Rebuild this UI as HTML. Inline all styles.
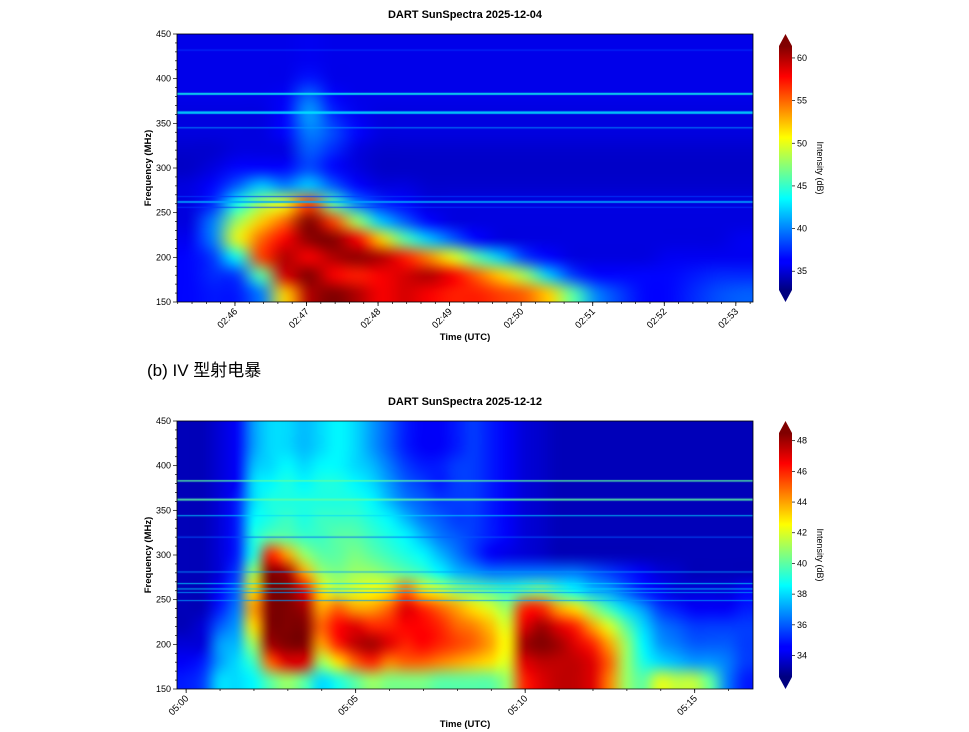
<!DOCTYPE html>
<html><head><meta charset="utf-8">
<style>
html,body{margin:0;padding:0;background:#fff;width:969px;height:732px;overflow:hidden;font-family:"Liberation Sans","Noto Sans CJK SC",sans-serif;}
#root{position:relative;width:969px;height:732px;}
canvas{position:absolute;}
svg{position:absolute;left:0;top:0;}
</style></head>
<body>
<div id="root">
<canvas id="hm1" width="576" height="268" style="left:177px;top:34px"></canvas>
<canvas id="hm2" width="576" height="268" style="left:177px;top:421px"></canvas>
<svg id="ov" width="969" height="732">
<defs>
<linearGradient id="jet" x1="0" y1="1" x2="0" y2="0">
<stop offset="0" stop-color="#000080"/><stop offset="0.11" stop-color="#0000ff"/><stop offset="0.125" stop-color="#0000ff"/>
<stop offset="0.375" stop-color="#00ffff"/><stop offset="0.5" stop-color="#80ff80"/><stop offset="0.625" stop-color="#ffff00"/>
<stop offset="0.875" stop-color="#ff0000"/><stop offset="1" stop-color="#800000"/>
</linearGradient>
</defs>
<text x="465" y="18" text-anchor="middle" font-size="11" font-weight="bold">DART SunSpectra 2025-12-04</text>
<text x="465" y="405" text-anchor="middle" font-size="11" font-weight="bold">DART SunSpectra 2025-12-12</text>
<text x="147" y="376" font-size="17">(b) IV 型射电暴</text>
</svg>
</div>
<script>
// ===== Chart 1 data =====
const time1Min = 45.19, time1Max = 53.24;   // minutes after 02:00
const freqMin = 150, freqMax = 450;
const c1Range = [32.8, 61.4];
const grid1 = [
[35.8,35.8,35.8,35.8,35.8,36,35.8,35.8,35.8,35.8,35.8,35.8,35.8,35.8,35.8,35.8,35.8,35.8,35.8,35.8,35.8,35.8,35.8,35.8],
[35.8,35.8,35.8,35.8,35.8,36,35.8,35.8,35.8,35.8,35.8,35.8,35.8,35.8,35.8,35.8,35.8,35.8,35.8,35.8,35.8,35.8,35.8,35.8],
[35.8,35.8,35.8,35.8,35.8,37,35.8,35.8,35.8,35.8,35.8,35.8,35.8,35.8,35.8,35.8,35.8,35.8,35.8,35.8,35.8,35.8,35.8,35.8],
[35.8,35.8,35.8,35.8,36.2,39.5,36.5,35.8,35.8,35.8,35.8,35.8,35.8,35.8,35.8,35.8,35.8,35.8,35.8,35.8,35.8,35.8,35.8,35.8],
[35.5,35.5,35.5,35.5,36.5,41,37.5,36,35.5,35.5,35.5,35.5,35.5,35.5,35.5,35.5,35.5,35.5,35.5,35.5,35.5,35.5,35.5,35.5],
[35.5,35.5,35.5,35.5,36.5,40,38.5,36.5,35.5,35.5,35.5,35.5,35.5,35.5,35.5,35.5,35.5,35.5,35.5,35.5,35.5,35.5,35.5,35.5],
[35,35,35.5,35.5,35.5,39,37.5,35.5,35,35,35,35,35,35,35,35,35,35,35,35,35,35,35,35],
[34.8,35.5,36.5,36.5,36.5,38.5,36.5,35.5,34.8,34.8,34.8,34.8,34.8,34.8,34.8,34.8,34.8,34.8,34.8,34.8,34.8,34.8,34.8,34.8],
[35.5,36.5,39,42,40,42,39,36.5,35.5,35.5,35,35,35,35,35,35,35,35,35,35,35,35,35,35],
[35.5,37.5,44,48,50,56,46,40,37.5,36.5,35.5,35.5,35.5,35.5,35.5,35.5,35.5,35.5,35.5,35.5,35.5,35.5,35.5,35.5],
[35.5,40,48,52,55,62,56,48,42,39,36.5,35.5,35.5,35.5,35.5,35.5,35.5,35.5,35.5,35.5,35.5,35.5,35.5,35.5],
[36,40,50,55,58,61,62,58,52,46,42,39,36.5,35.5,35.5,35.5,35.5,35.5,35.5,35.5,35.5,35.5,35.5,36],
[36.5,38,44,56,60,58,60,61,60,57,54,50,46,42,38,36.5,35.5,35.5,35.5,35.5,36,36,36,36],
[36.5,37.5,38,46,59,62,58,57,58,59,60,58,55,52,48,42,38,36.5,36.5,36.5,36.5,37,37.5,37.5],
[36.5,37,37,40,52,60,62,60,58,59,58,57,57,56,55,52,46,40,38,36.5,36.5,37.5,38.5,39]
];
const lineFreqs1 = [432,383,362,345,268,262,256];
const lineVals1  = [38,44,43,41,38,41,38];
const lineWidths1 = [1,2,2.5,1,1,2,1];
const xTicks1 = [46,47,48,49,50,51,52,53];
const xTickLabels1 = ["02:46","02:47","02:48","02:49","02:50","02:51","02:52","02:53"];
const cbTicks1 = [35,40,45,50,55,60];

// ===== Chart 2 data =====
const time2Min = -0.27, time2Max = 16.72;   // minutes after 05:00
const c2Range = [32.6, 48.5];
const grid2 = [
[33.5,33.5,34,34.5,37,38,38,37.5,38,38.5,38,37,36,35,34.5,34.5,35,35.5,35,34.5,34,33.8,33.5,33.5,33.5,33.5,33.5,33.5,33.5,33.5,33.5,33.5,33.5,33.5],
[33.5,33.5,34,34.5,37,38,38,37.5,38,38.5,38,37,36,35,34.5,34.5,35,35.5,35,34.5,34,33.8,33.5,33.5,33.5,33.5,33.5,33.5,33.5,33.5,33.5,33.5,33.5,33.5],
[33.5,33.5,34,34.5,37.5,38,38.5,38,38.5,38.5,38,37.5,36.5,35.5,35,35,35.5,35.5,35,34.5,34,33.8,33.5,33.5,33.5,33.5,33.5,33.5,33.5,33.5,33.5,33.5,33.5,33.5],
[33.5,33.5,34,34.5,38,38.5,39,38.5,39,39,38.5,38,37,36,35.5,35,35.5,35.5,35,34.5,34,33.8,33.5,33.5,33.5,33.5,33.5,33.5,33.5,33.5,33.5,33.5,33.5,33.5],
[33.5,33.5,34,35,38,39,39,39,39,39,39,38.5,37.5,36.5,36,35.5,35.5,35.5,35,34.5,34,33.8,33.5,33.5,33.5,33.5,33.5,33.5,33.5,33.5,33.5,33.5,33.5,33.5],
[33.5,33.5,34,35,38.5,39,39.5,39,39.5,39.5,39.5,39,38.5,37.5,36.5,36,35.5,35.5,35,34.5,34,33.8,33.5,33.5,33.5,33.5,33.5,33.5,33.5,33.5,33.5,33.5,33.5,33.5],
[33.5,33.5,34,35,39,40,40,39.5,39.5,40,40,39.5,39,38.5,37.5,36.5,36,35.5,35,34.5,34,33.8,33.5,33.5,33.5,33.5,33.5,33.5,33.5,33.5,33.5,33.5,33.5,33.5],
[33.5,33.5,34,35,39,46,44,41,40,40,40.5,40,39.5,39,38.5,37.5,36.5,35.5,34.5,34.2,34,33.8,33.5,33.5,33.5,33.5,33.5,33.5,33.5,33.5,33.5,33.5,33.5,33.5],
[33.5,33.5,34,35.5,41,48.5,48,44,41,40.5,41,41,40.5,40,39.5,38.5,37.5,37,36.5,36.5,36.5,36.5,36.5,36.5,36,35.5,35,34.5,34,33.8,33.5,33.5,33.5,33.5],
[33.5,33.5,34.5,36,43,48.5,48.5,47,43,41.5,42,42.5,43,45,43,42,41,40.5,40,39.5,40,40.5,39.5,38.5,37.5,37,36,35,34.5,34,34,34,34,34.5],
[33.5,33.5,35,36.5,44,48.5,48.5,48,44,45,44,44,45,47,46,45,44,43,42,41,46,46,44,43,41,39.5,38,37,35.5,35,34.5,34.5,34.5,35],
[33.5,34,36,37,43,48.5,48.5,48.5,45,46.5,47,46,46,46.5,46.5,46,45,44.5,43.5,42,47,48,47,46,44,42,40,38,36.5,36,35.5,35.5,35.5,35.5],
[34,34,37,37.5,41,48,48.5,48.5,44,46,47.5,48,47,46,46.5,46,45.5,45,44,42.5,48,48.5,48,47,46,44,41,38.5,37,36.5,36,36,36,35.5],
[34.5,35,37,38,39.5,45,47,47,41,43,45,46,44.5,45,45,44.5,44,43.5,43,42,47,47.5,47.5,47.5,47,45,41,39,38,37.5,37,37,36.5,35.5],
[35,35.5,38,38,38.5,40,41,40,38,39,40,41,40.5,40.5,40.5,40,40,40,40,41,46,47,47.5,47.5,47,44.5,41,40,42,41.5,41.5,40,36.5,35]
];
const lineFreqs2 = [383,362,344,320,281,268,262,258,249];
const lineVals2  = [40,40,38,36,37,38,38,37,37];
const lineWidths2 = [1.5,2,1,1,1,1,1,1,1];
const xTicks2 = [0,5,10,15];
const xTickLabels2 = ["05:00","05:05","05:10","05:15"];
const cbTicks2 = [34,36,38,40,42,44,46,48];
const yTicks = [150,200,250,300,350,400,450];

function jet(t){
  t=Math.max(0,Math.min(1,t));
  const c=v=>Math.round(255*Math.max(0,Math.min(1,v)));
  return [c(1.5-Math.abs(4*t-3)),c(1.5-Math.abs(4*t-2)),c(1.5-Math.abs(4*t-1))];
}
function drawHeat(id,grid,range,lf,lv,lw){
  const cv=document.getElementById(id),ctx=cv.getContext('2d');
  const rows=grid.length,cols=grid[0].length;
  const sm=document.createElement('canvas');sm.width=cols;sm.height=rows;
  const sctx=sm.getContext('2d'),img=sctx.createImageData(cols,rows);
  for(let r=0;r<rows;r++)for(let c=0;c<cols;c++){
    const [R,G,B]=jet((grid[r][c]-range[0])/(range[1]-range[0]));
    const k=(r*cols+c)*4;img.data[k]=R;img.data[k+1]=G;img.data[k+2]=B;img.data[k+3]=255;
  }
  sctx.putImageData(img,0,0);
  ctx.imageSmoothingEnabled=true;ctx.imageSmoothingQuality='high';
  ctx.drawImage(sm,0,0,cv.width,cv.height);
  const fy=f=>cv.height*(freqMax-f)/(freqMax-freqMin);
  for(let i=0;i<lf.length;i++){
    const [R,G,B]=jet((lv[i]-range[0])/(range[1]-range[0]));
    ctx.fillStyle='rgba('+R+','+G+','+B+',0.85)';
    ctx.fillRect(0,fy(lf[i])-lw[i]/2,cv.width,lw[i]);
  }
}
drawHeat('hm1',grid1,c1Range,lineFreqs1,lineVals1,lineWidths1);
drawHeat('hm2',grid2,c2Range,lineFreqs2,lineVals2,lineWidths2);

const svg=document.getElementById('ov');const NS='http://www.w3.org/2000/svg';
function mk(tag,attrs,text){const e=document.createElementNS(NS,tag);for(const k in attrs)e.setAttribute(k,attrs[k]);if(text!==undefined)e.textContent=text;svg.appendChild(e);return e;}

function axes(n,top,tMin,tMax,xt,xtl,minorStep,cb,cr){
  const L=177,R=753,B=top+268;
  const sx=t=>L+(t-tMin)/(tMax-tMin)*(R-L);
  const sy=f=>B-(f-freqMin)/(freqMax-freqMin)*268;
  const frame=mk('rect',{x:L,y:top,width:R-L,height:268,fill:'none',stroke:'#000','stroke-width':0.8});
  
  
  for(let f=freqMin;f<=freqMax;f+=10){
    const mt=mk('line',{x1:L-(f%50?2:4),x2:L,y1:sy(f),y2:sy(f),stroke:'#000','stroke-width':0.7});
    
    
  }
  yTicks.forEach(v=>{
    const tl=mk('text',{x:L-6,y:sy(v)+3,'text-anchor':'end','font-size':9},String(v));
    
    
  });
  for(let t=Math.ceil(tMin/minorStep)*minorStep;t<=tMax;t+=minorStep){
    const mt=mk('line',{x1:sx(t),x2:sx(t),y1:B,y2:B+2,stroke:'#000','stroke-width':0.7});
    
    
  }
  xt.forEach((t,i)=>{
    const x=sx(t);
    const tk=mk('line',{x1:x,x2:x,y1:B,y2:B+4,stroke:'#000','stroke-width':0.8});
    
    
    const tl=mk('text',{x:x+3,y:B+10,'text-anchor':'end','font-size':9.5,transform:'rotate(-45 '+(x+3)+' '+(B+10)+')'},xtl[i]);
    
    
  });
  const yl=mk('text',{x:0,y:0,'text-anchor':'middle','font-size':9.5,'font-weight':'bold',transform:'translate(151 '+(top+134)+') rotate(-90)'},'Frequency (MHz)');
  
  
  const xl=mk('text',{x:465,y:B+38,'text-anchor':'middle','font-size':9.5,'font-weight':'bold'},'Time (UTC)');
  
  
  const cx=779,cw=13,ct=top+12,cbh=268-24;
  const bar=mk('rect',{x:cx,y:ct,width:cw,height:cbh,fill:'url(#jet)'});
  
  
  const up=mk('polygon',{points:cx+','+ct+' '+(cx+cw/2)+','+top+' '+(cx+cw)+','+ct,fill:'#800000'});
  
  
  const dn=mk('polygon',{points:cx+','+(ct+cbh)+' '+(cx+cw/2)+','+(top+268)+' '+(cx+cw)+','+(ct+cbh),fill:'#000080'});
  
  
  const cy=v=>ct+cbh-(v-cr[0])/(cr[1]-cr[0])*cbh;
  cb.forEach(v=>{
    const tk=mk('line',{x1:cx+cw,x2:cx+cw+3,y1:cy(v),y2:cy(v),stroke:'#000','stroke-width':0.7});
    
    
    const tl=mk('text',{x:cx+cw+5,y:cy(v)+3,'font-size':9},String(v));
    
    
  });
  const cl=mk('text',{x:0,y:0,'text-anchor':'middle','font-size':9,transform:'translate(817 '+(top+134)+') rotate(90)'},'Intensity (dB)');
  
  
}
axes(1,34,time1Min,time1Max,xTicks1,xTickLabels1,0.2,cbTicks1,c1Range);
axes(2,421,time2Min,time2Max,xTicks2,xTickLabels2,1,cbTicks2,c2Range);
</script>
</body></html>
